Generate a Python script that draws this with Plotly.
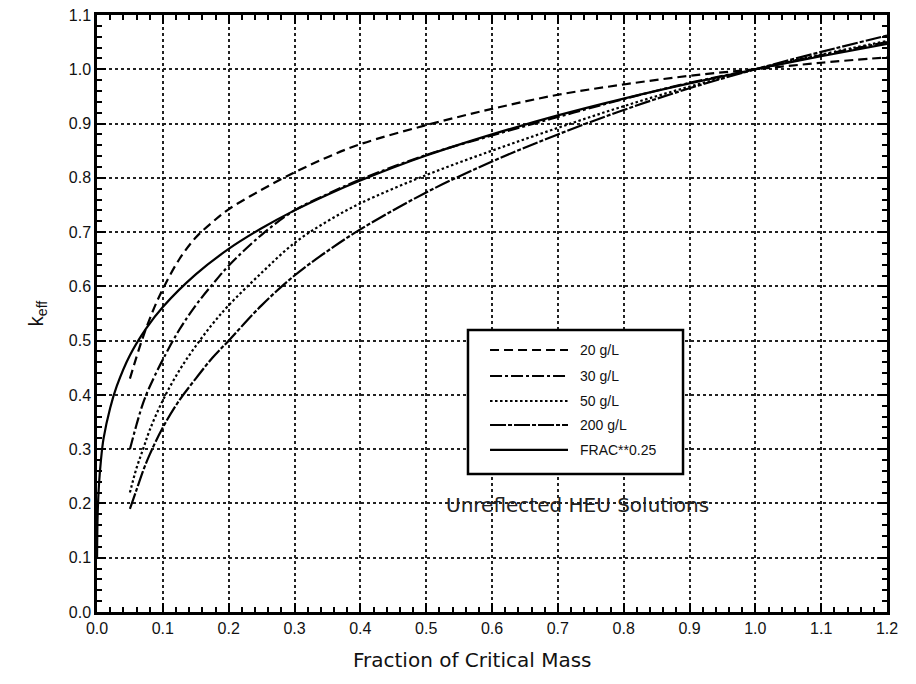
import plotly.graph_objects as go

# FRAC**0.25 (solid)
frac_x = [0.0001, 0.001, 0.003, 0.006, 0.01, 0.02, 0.03, 0.05, 0.075, 0.1, 0.15, 0.2, 0.25, 0.3, 0.35, 0.4, 0.5, 0.6, 0.7, 0.8, 0.9, 1.0, 1.1, 1.2]
frac_y = [0.10, 0.18, 0.235, 0.28, 0.32, 0.376, 0.416, 0.473, 0.523, 0.562, 0.622, 0.669, 0.707, 0.74, 0.769, 0.795, 0.841, 0.88, 0.915, 0.946, 0.974, 1.0, 1.024, 1.047]

# 20 g/L (dashed)
g20_x = [0.05, 0.068, 0.085, 0.1, 0.125, 0.15, 0.175, 0.2, 0.25, 0.3, 0.35, 0.4, 0.5, 0.6, 0.7, 0.8, 0.9, 1.0, 1.1, 1.2]
g20_y = [0.43, 0.50, 0.555, 0.595, 0.65, 0.69, 0.718, 0.742, 0.778, 0.81, 0.838, 0.862, 0.897, 0.927, 0.953, 0.972, 0.988, 1.0, 1.012, 1.022]

# 30 g/L (dash-dot)
g30_x = [0.05, 0.06, 0.07, 0.08, 0.1, 0.125, 0.15, 0.175, 0.2, 0.25, 0.3, 0.35, 0.4, 0.5, 0.6, 0.7, 0.8, 0.9, 1.0, 1.1, 1.2]
g30_y = [0.30, 0.345, 0.385, 0.415, 0.465, 0.52, 0.565, 0.603, 0.638, 0.695, 0.74, 0.77, 0.797, 0.842, 0.878, 0.912, 0.945, 0.975, 1.0, 1.026, 1.05]

# 50 g/L (dotted)
g50_x = [0.05, 0.06, 0.07, 0.08, 0.1, 0.125, 0.15, 0.175, 0.2, 0.25, 0.3, 0.35, 0.4, 0.5, 0.6, 0.7, 0.8, 0.9, 1.0, 1.1, 1.2]
g50_y = [0.22, 0.265, 0.30, 0.335, 0.39, 0.445, 0.49, 0.53, 0.565, 0.625, 0.68, 0.72, 0.753, 0.805, 0.85, 0.892, 0.932, 0.968, 1.0, 1.027, 1.052]

# 200 g/L (long dash)
g200_x = [0.05, 0.06, 0.07, 0.08, 0.1, 0.125, 0.15, 0.175, 0.2, 0.25, 0.3, 0.35, 0.4, 0.5, 0.6, 0.7, 0.8, 0.9, 1.0, 1.1, 1.2]
g200_y = [0.19, 0.225, 0.26, 0.29, 0.34, 0.39, 0.43, 0.468, 0.50, 0.565, 0.62, 0.665, 0.705, 0.773, 0.83, 0.88, 0.925, 0.965, 1.0, 1.032, 1.062]

x_ticks = [0.0, 0.1, 0.2, 0.3, 0.4, 0.5, 0.6, 0.7, 0.8, 0.9, 1.0, 1.1, 1.2]
y_ticks = [0.0, 0.1, 0.2, 0.3, 0.4, 0.5, 0.6, 0.7, 0.8, 0.9, 1.0, 1.1]

series_names = ["20 g/L", "30 g/L", "50 g/L", "200 g/L", "FRAC**0.25"]
series_x = [g20_x, g30_x, g50_x, g200_x, frac_x]
series_y = [g20_y, g30_y, g50_y, g200_y, frac_y]
series_dash = ["9px,5px", "12px,3px,3px,3px", "2.5px,2.5px", "16px,2px,4px,2px", "solid"]

font = "Liberation Sans, Arial, sans-serif"
wide_font = "DejaVu Sans, Liberation Sans, sans-serif"

fig = go.Figure()
for name, xs, ys, dash in zip(series_names, series_x, series_y, series_dash):
    fig.add_trace(go.Scatter(
        x=xs, y=ys, mode="lines", name=name, showlegend=False,
        line=dict(color="black", width=2.2, dash=dash, shape="spline", smoothing=1.0),
    ))

axis_common = dict(
    showline=True, linecolor="black", linewidth=2.5, mirror="ticks",
    ticks="inside", ticklen=9, tickwidth=2, tickcolor="black",
    showgrid=True, gridcolor="#222", griddash="dot", gridwidth=1.5,
    zeroline=False, automargin=False, ticklabeloverflow="allow",
    tickfont=dict(family=font, size=16, color="#111"),
    minor=dict(ticks="inside", ticklen=5, tickwidth=1.5, tickcolor="black", dtick=0.02, showgrid=False),
)

fig.update_xaxes(range=[0, 1.2], tickvals=x_ticks, ticktext=[f"{v:.1f}" for v in x_ticks], **axis_common)
fig.update_yaxes(range=[0, 1.1], tickvals=y_ticks, ticktext=[f"{v:.1f}" for v in y_ticks],
                 title=dict(text="k<sub>eff</sub>", font=dict(family=font, size=20, color="#111"), standoff=20),
                 **axis_common)

# x-axis title placed slightly left of centre, as in the original
fig.add_annotation(xref="paper", yref="paper", x=0.475, y=-0.08, xanchor="center", yanchor="middle",
                   text="Fraction of Critical Mass", showarrow=False,
                   font=dict(family=wide_font, size=20, color="#111"))

fig.add_annotation(x=0.73, y=0.197, xref="x", yref="y", text="Unreflected HEU Solutions",
                   showarrow=False, font=dict(family=wide_font, size=20, color="#222"))

# manual legend box (layout styling, in plot-area paper coordinates)
fig.add_shape(type="rect", xref="paper", yref="paper", x0=0.4696, x1=0.7418, y0=0.2312, y1=0.4724,
              line=dict(color="black", width=2.5), fillcolor="white", layer="above")
legend_rows = [0.4389, 0.3953, 0.3534, 0.3132, 0.2714]
for name, dash, yy in zip(series_names, series_dash, legend_rows):
    fig.add_shape(type="line", xref="paper", yref="paper", x0=0.4975, x1=0.5962, y0=yy, y1=yy,
                  line=dict(color="black", width=2.2, dash=dash), layer="above")
    fig.add_annotation(xref="paper", yref="paper", x=0.6089, y=yy, xanchor="left", yanchor="middle",
                       text=name, showarrow=False, font=dict(family=font, size=14, color="#111"))

fig.update_layout(
    width=916, height=684,
    margin=dict(l=89, r=37, t=7, b=80),
    paper_bgcolor="white", plot_bgcolor="white",
    showlegend=False,
)

fig.write_html("out.html")
